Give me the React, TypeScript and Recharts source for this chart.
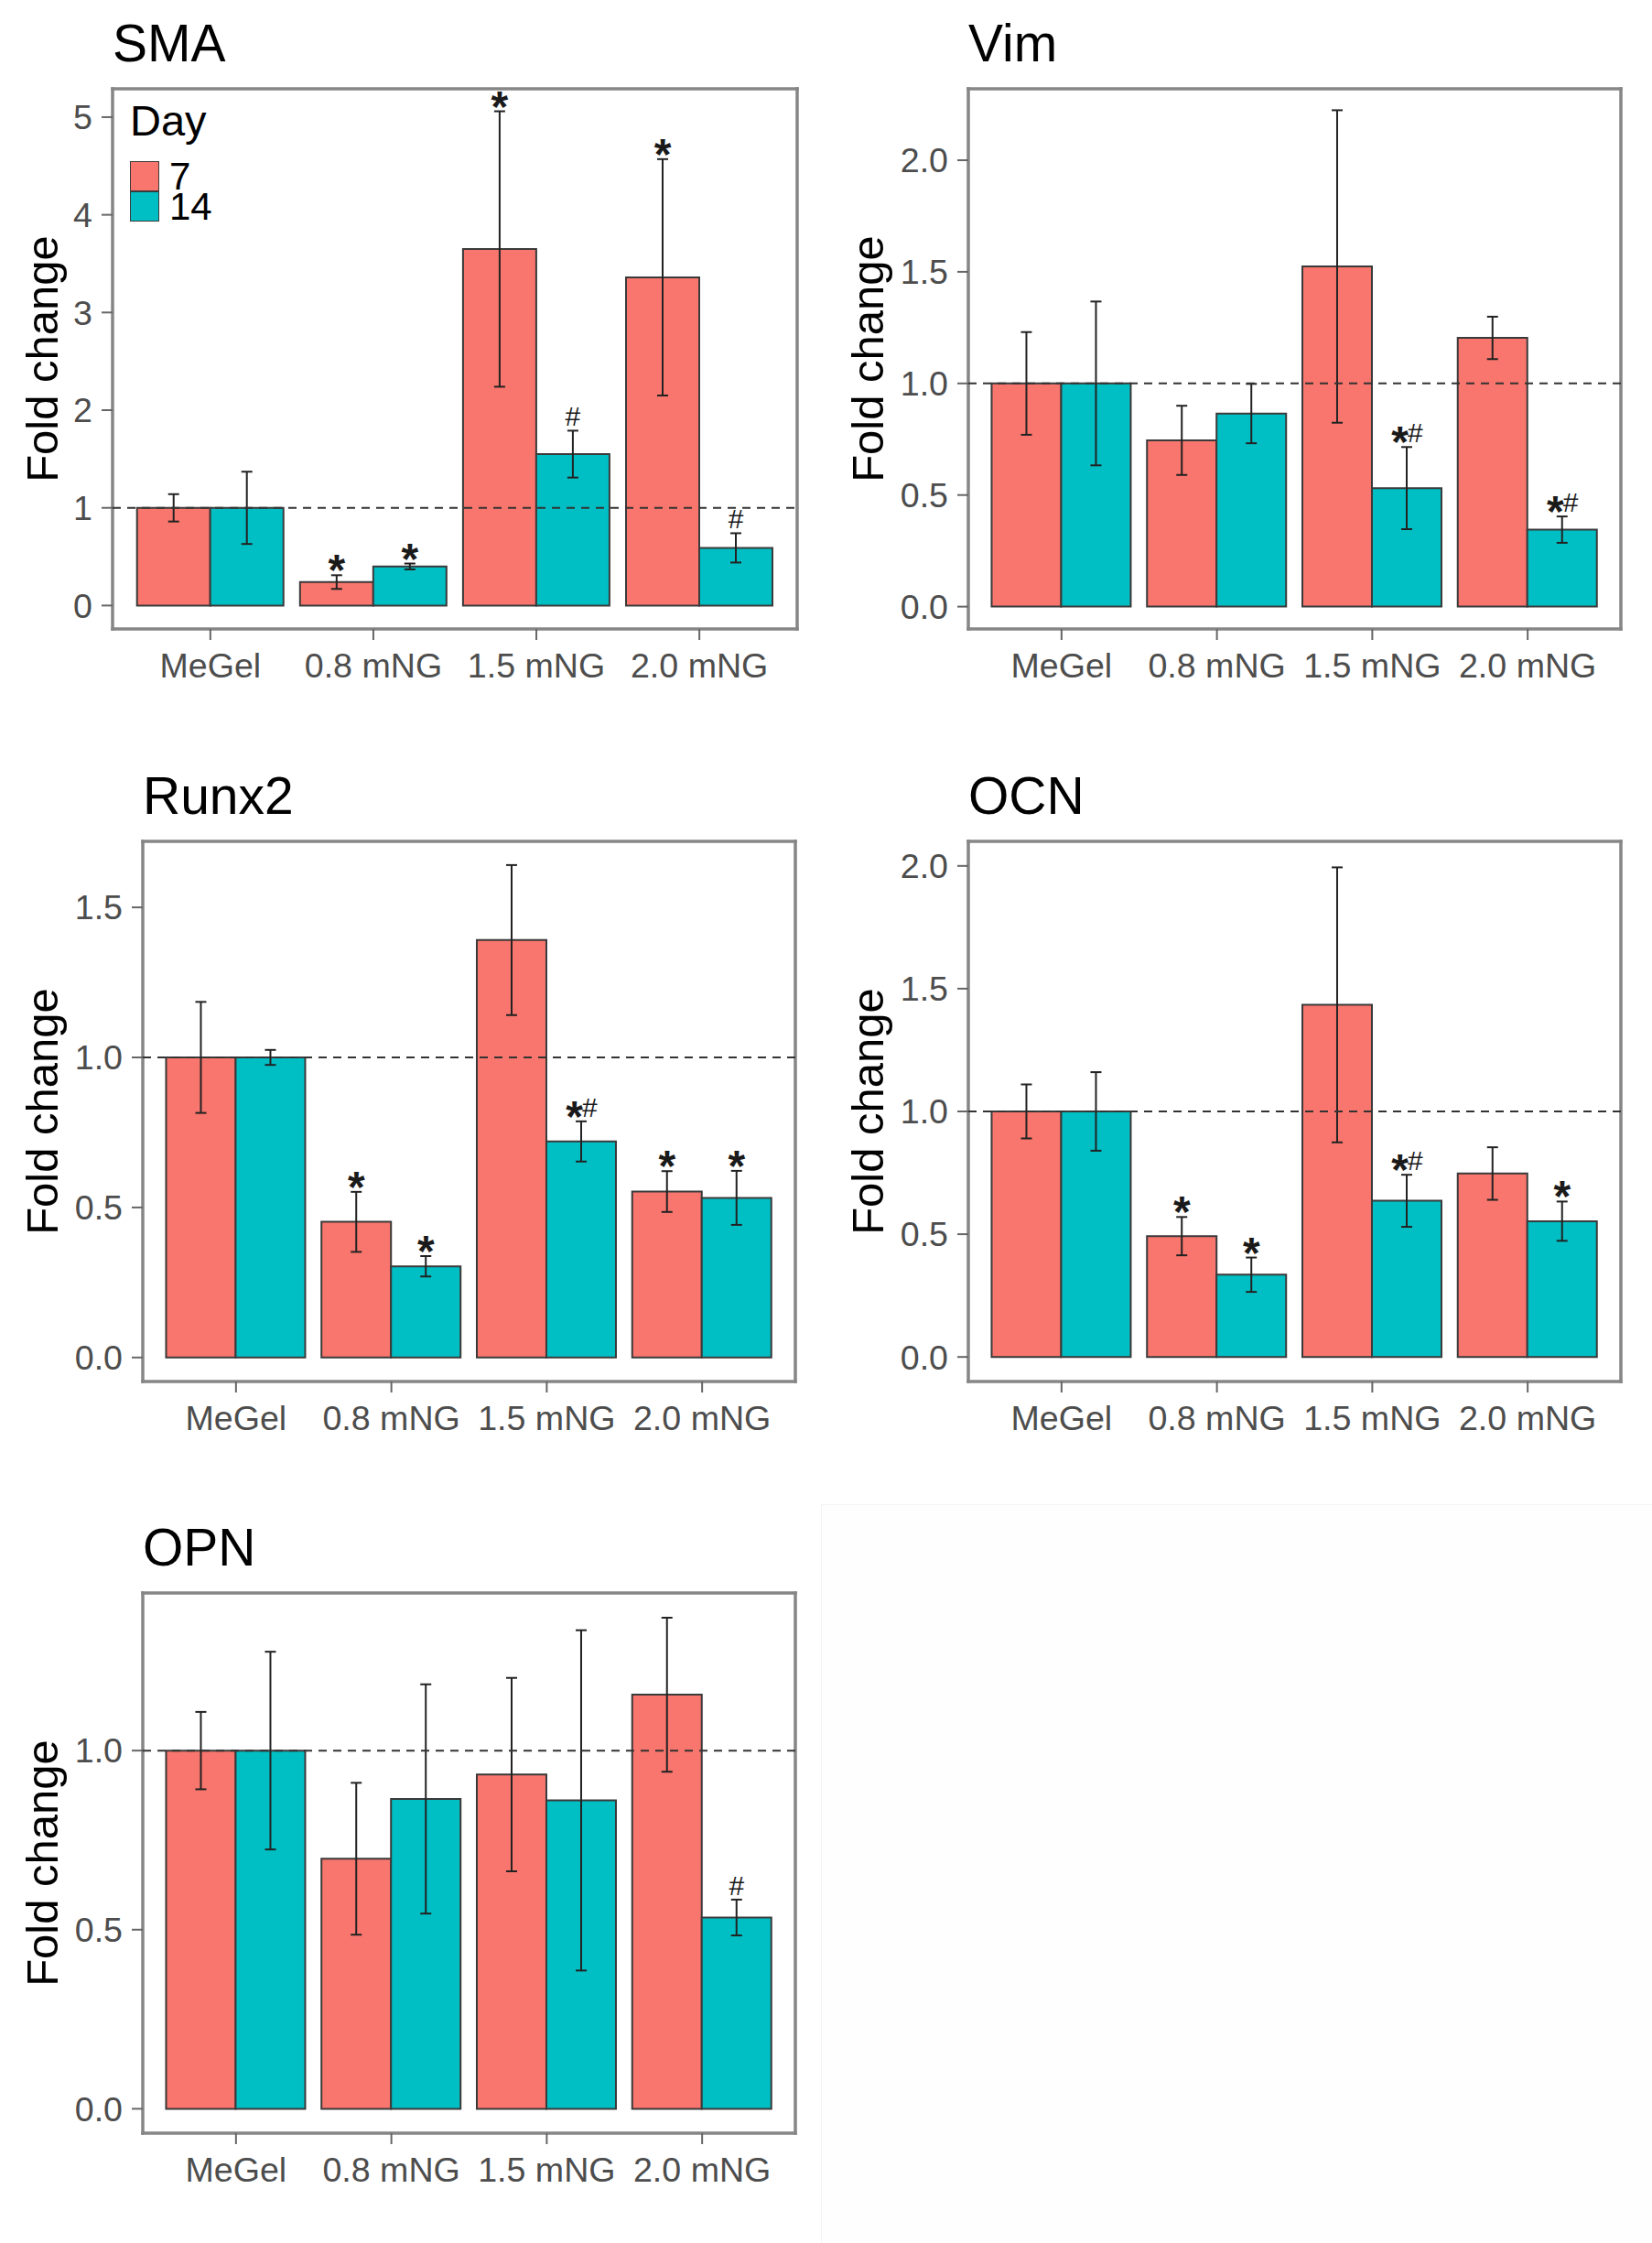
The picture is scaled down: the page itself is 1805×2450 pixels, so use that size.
import React from 'react';
import { BarChart, Bar, XAxis, YAxis, ErrorBar, ReferenceLine, CartesianGrid, LabelList, Legend } from 'recharts';

const FONT = '"Liberation Sans", Arial, Helvetica, sans-serif';

// ---- shared categories / series ----
const categories = ['MeGel', '0.8 mNG', '1.5 mNG', '2.0 mNG'];
const dayNames = ['7', '14'];
const dayColors = ['#F8766D', '#00BFC4'];

// ---- SMA ----
const smaDay7 = [1.0, 0.24, 3.65, 3.36];
const smaDay7Err = [0.14, 0.07, 1.41, 1.21];
const smaDay14 = [1.0, 0.4, 1.55, 0.59];
const smaDay14Err = [0.37, 0.03, 0.24, 0.15];
const smaSig7 = ['', '*', '*', '*'];
const smaSig14 = ['', '*', '#', '#'];
const smaTicks = [0, 1, 2, 3, 4, 5];
const smaDomain = [-0.24, 5.29];

// ---- Vim ----
const vimDay7 = [1.0, 0.745, 1.524, 1.204];
const vimDay7Err = [0.23, 0.155, 0.7, 0.095];
const vimDay14 = [1.0, 0.865, 0.531, 0.345];
const vimDay14Err = [0.367, 0.133, 0.184, 0.059];
const vimSig7 = ['', '', '', ''];
const vimSig14 = ['', '', '*#', '*#'];
const vimTicks = [0, 0.5, 1, 1.5, 2];
const vimDomain = [-0.1, 2.32];

// ---- Runx2 ----
const runxDay7 = [1.0, 0.452, 1.391, 0.553];
const runxDay7Err = [0.185, 0.1, 0.25, 0.068];
const runxDay14 = [1.0, 0.304, 0.72, 0.532];
const runxDay14Err = [0.025, 0.034, 0.067, 0.09];
const runxSig7 = ['', '*', '', '*'];
const runxSig14 = ['', '*', '*#', '*'];
const runxTicks = [0, 0.5, 1, 1.5];
const runxDomain = [-0.08, 1.72];

// ---- OCN ----
const ocnDay7 = [1.0, 0.492, 1.434, 0.747];
const ocnDay7Err = [0.11, 0.078, 0.56, 0.107];
const ocnDay14 = [1.0, 0.335, 0.636, 0.553];
const ocnDay14Err = [0.16, 0.07, 0.106, 0.08];
const ocnSig7 = ['', '*', '', ''];
const ocnSig14 = ['', '*', '*#', '*'];
const ocnTicks = [0, 0.5, 1, 1.5, 2];
const ocnDomain = [-0.1, 2.1];

// ---- OPN ----
const opnDay7 = [1.0, 0.698, 0.933, 1.156];
const opnDay7Err = [0.108, 0.212, 0.27, 0.215];
const opnDay14 = [1.0, 0.865, 0.861, 0.534];
const opnDay14Err = [0.276, 0.32, 0.475, 0.05];
const opnSig7 = ['', '', '', ''];
const opnSig14 = ['', '', '', '#'];
const opnTicks = [0, 0.5, 1];
const opnDomain = [-0.068, 1.44];

type PanelCfg = {
  title: string;
  d7: number[]; e7: number[]; d14: number[]; e14: number[];
  s7: string[]; s14: string[];
  ticks: number[]; domain: number[]; intTicks?: boolean;
};

const panels: { cfg: PanelCfg; left: number; top: number; width: number; plotLeft: number; plotRight: number; yLabelX: number; legend?: boolean }[] = [
  { cfg: { title: 'SMA', d7: smaDay7, e7: smaDay7Err, d14: smaDay14, e14: smaDay14Err, s7: smaSig7, s14: smaSig14, ticks: smaTicks, domain: smaDomain, intTicks: true }, left: 0, top: 0, width: 900, plotLeft: 123, plotRight: 871, yLabelX: 63, legend: true },
  { cfg: { title: 'Vim', d7: vimDay7, e7: vimDay7Err, d14: vimDay14, e14: vimDay14Err, s7: vimSig7, s14: vimSig14, ticks: vimTicks, domain: vimDomain }, left: 900, top: 0, width: 905, plotLeft: 158, plotRight: 871, yLabelX: 65 },
  { cfg: { title: 'Runx2', d7: runxDay7, e7: runxDay7Err, d14: runxDay14, e14: runxDay14Err, s7: runxSig7, s14: runxSig14, ticks: runxTicks, domain: runxDomain }, left: 0, top: 822, width: 900, plotLeft: 156, plotRight: 869, yLabelX: 63 },
  { cfg: { title: 'OCN', d7: ocnDay7, e7: ocnDay7Err, d14: ocnDay14, e14: ocnDay14Err, s7: ocnSig7, s14: ocnSig14, ticks: ocnTicks, domain: ocnDomain }, left: 900, top: 822, width: 905, plotLeft: 158, plotRight: 871, yLabelX: 65 },
  { cfg: { title: 'OPN', d7: opnDay7, e7: opnDay7Err, d14: opnDay14, e14: opnDay14Err, s7: opnSig7, s14: opnSig14, ticks: opnTicks, domain: opnDomain }, left: 0, top: 1643, width: 900, plotLeft: 156, plotRight: 869, yLabelX: 63 },
];

const PANEL_H = 800;
const PLOT_TOP = 97;
const PLOT_BOTTOM = 687;
const XAXIS_H = 60;
const YAXIS_W = 100;

const makeSigLabel = (sig: string[], means: number[], errs: number[]) => (props: any) => {
  const i = props.index;
  if (i == null) return null;
  const s = sig[i];
  if (!s) return null;
  const vb = props.viewBox || props;
  const x = Number(vb.x), y = Number(vb.y), w = Number(vb.width), h = Number(vb.height);
  const pxPerUnit = Math.abs(h) / means[i];
  const errTop = y - errs[i] * pxPerUnit;
  const cx = x + w / 2;
  const starY = errTop + 11;
  const hashY = errTop - 5;
  if (s === '*') {
    return <text key={`s${i}`} x={cx} y={starY} textAnchor="middle" fontSize={48} fontWeight="bold" fontFamily={FONT} fill="#1a1a1a">*</text>;
  }
  if (s === '#') {
    return <text key={`s${i}`} x={cx} y={hashY} textAnchor="middle" fontSize={30} fontFamily={FONT} fill="#1a1a1a">#</text>;
  }
  return (
    <g key={`s${i}`}>
      <text x={cx + 2} y={starY} textAnchor="end" fontSize={48} fontWeight="bold" fontFamily={FONT} fill="#1a1a1a">*</text>
      <text x={cx + 1} y={hashY} textAnchor="start" fontSize={30} fontFamily={FONT} fill="#1a1a1a">#</text>
    </g>
  );
};

const XTick = (props: any) => {
  const { x, y, payload } = props;
  return (
    <text x={x} y={y} dy="0.71em" textAnchor="middle" fontSize={37.6} fontFamily={FONT} fill="#4d4d4d">
      {payload.value}
    </text>
  );
};

const makeYTick = (intTicks?: boolean) => (props: any) => {
  const { x, y, payload } = props;
  const v = Number(payload.value);
  return (
    <text x={x} y={y} dy="0.355em" textAnchor="end" fontSize={37.6} fontFamily={FONT} fill="#4d4d4d">
      {intTicks ? String(v) : v.toFixed(1)}
    </text>
  );
};

const LegendContent = (props: any) => {
  const payload = [...(props.payload || [])].sort(
    (a: any, b: any) => dayNames.indexOf(String(a.value)) - dayNames.indexOf(String(b.value))
  );
  return (
    <div style={{ fontFamily: FONT, color: '#000' }}>
      <div style={{ fontSize: 47, lineHeight: '46px', marginBottom: 21, whiteSpace: 'nowrap' }}>Day</div>
      {payload.map((p: any) => (
        <div key={String(p.value)} style={{ display: 'flex', alignItems: 'center', height: 33 }}>
          <div style={{ width: 32, height: 33, boxSizing: 'border-box', background: p.color || (p.payload && p.payload.fill), border: '1.5px solid #3a3a3a' }} />
          <span style={{ fontSize: 42, lineHeight: '33px', marginLeft: 11 }}>{p.value}</span>
        </div>
      ))}
    </div>
  );
};

function Panel({ cfg, left, top, width, plotLeft, plotRight, yLabelX, legend }: any) {
  const data = categories.map((c, i) => ({ cat: c, d7: cfg.d7[i], e7: cfg.e7[i], d14: cfg.d14[i], e14: cfg.e14[i] }));
  const margin = {
    top: PLOT_TOP,
    left: plotLeft - YAXIS_W,
    right: width - plotRight,
    bottom: PANEL_H - PLOT_BOTTOM - XAXIS_H,
  };
  const pad = (plotRight - plotLeft) / 42;
  const midY = (PLOT_TOP + PLOT_BOTTOM) / 2;
  return (
    <div style={{ position: 'absolute', left, top, width, height: PANEL_H }}>
      <BarChart width={width} height={PANEL_H} data={data} margin={margin} barCategoryGap="5%" barGap={0}>
        <CartesianGrid
          stroke="#868686"
          strokeWidth={3.5}
          strokeLinecap="square"
          horizontalCoordinatesGenerator={(p: any) => [p.offset.top, p.offset.top + p.offset.height]}
          verticalCoordinatesGenerator={(p: any) => [p.offset.left, p.offset.left + p.offset.width]}
        />
        <XAxis
          dataKey="cat"
          type="category"
          padding={{ left: pad, right: pad }}
          axisLine={false}
          tickLine={{ stroke: '#666', strokeWidth: 2 }}
          tickSize={12}
          tickMargin={14}
          height={XAXIS_H}
          interval={0}
          tick={<XTick />}
        />
        <YAxis
          type="number"
          domain={cfg.domain}
          ticks={cfg.ticks}
          allowDataOverflow
          axisLine={false}
          tickLine={{ stroke: '#666', strokeWidth: 2 }}
          tickSize={12}
          tickMargin={10}
          width={YAXIS_W}
          interval={0}
          tick={makeYTick(cfg.intTicks)}
        />
        <Bar dataKey="d7" name={dayNames[0]} fill={dayColors[0]} stroke="#3a3a3a" strokeWidth={2} isAnimationActive={false}>
          <ErrorBar dataKey="e7" width={6} stroke="#222" strokeWidth={2} direction="y" isAnimationActive={false} />
          <LabelList content={makeSigLabel(cfg.s7, cfg.d7, cfg.e7)} />
        </Bar>
        <Bar dataKey="d14" name={dayNames[1]} fill={dayColors[1]} stroke="#3a3a3a" strokeWidth={2} isAnimationActive={false}>
          <ErrorBar dataKey="e14" width={6} stroke="#222" strokeWidth={2} direction="y" isAnimationActive={false} />
          <LabelList content={makeSigLabel(cfg.s14, cfg.d14, cfg.e14)} />
        </Bar>
        <ReferenceLine y={1} stroke="#333" strokeWidth={2} strokeDasharray="9 7" ifOverflow="visible" />
        {legend && (
          <Legend
            layout="vertical"
            align="center"
            verticalAlign="middle"
            wrapperStyle={{ left: 142, top: 109, width: 140 }}
            content={<LegendContent />}
          />
        )}
      </BarChart>
      <svg width={width} height={PANEL_H} style={{ position: 'absolute', left: 0, top: 0, pointerEvents: 'none' }}>
        <text x={plotLeft} y={67} fontSize={57} fontFamily={FONT} fill="#000">{cfg.title}</text>
        <text
          x={yLabelX}
          y={midY}
          transform={`rotate(-90, ${yLabelX}, ${midY})`}
          textAnchor="middle"
          fontSize={49}
          fontFamily={FONT}
          fill="#000"
        >
          Fold change
        </text>
      </svg>
    </div>
  );
}

export default function App() {
  return (
    <div style={{ position: 'absolute', left: 0, top: 0, width: 1805, height: 2450, background: '#fff', overflow: 'hidden' }}>
      <div style={{ position: 'absolute', left: 897, top: 1643, right: 0, bottom: 0, borderLeft: '1px solid #f3f3f3', borderTop: '1px solid #f3f3f3', background: '#fefefe' }} />
      {panels.map((p) => (
        <Panel key={p.cfg.title} {...p} />
      ))}
    </div>
  );
}
